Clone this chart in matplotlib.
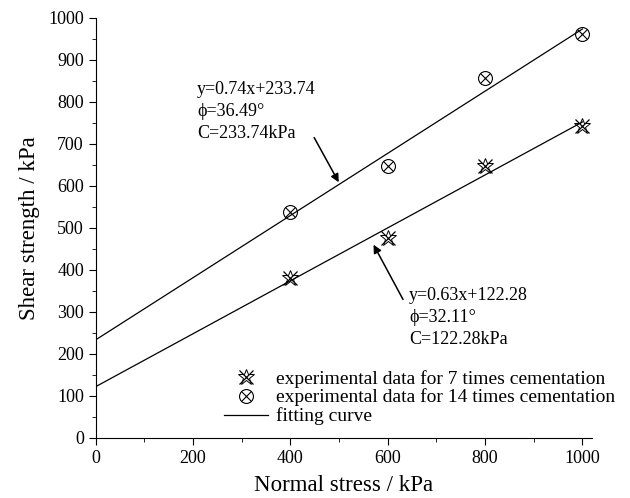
import matplotlib.pyplot as plt
import numpy as np
from matplotlib.lines import Line2D
from matplotlib.ticker import MultipleLocator

plt.rcParams['font.family'] = ['Liberation Serif', 'DejaVu Serif']

# data
stress = [400, 600, 800, 1000]
strength_7 = [380, 475, 648, 742]
strength_14 = [537, 648, 858, 962]
fit_7 = (0.63, 122.28)
fit_14 = (0.74, 233.74)

fig = plt.figure(figsize=(6.3, 4.98), dpi=100)
ax = fig.add_axes([0.152, 0.1205, 0.788, 0.8435])

xs = np.array([0, 1000])
ax.plot(xs, fit_7[0] * xs + fit_7[1], color='black', lw=0.9)
ax.plot(xs, fit_14[0] * xs + fit_14[1], color='black', lw=0.9)

ms = 10
ax.plot(stress, strength_7, ls='none', marker='x', ms=ms, mec='black', mew=0.9)
ax.plot(stress, strength_7, ls='none', marker='*', ms=ms + 2, mfc='none', mec='black', mew=0.7)
ax.plot(stress, strength_14, ls='none', marker='o', ms=ms, mfc='none', mec='black', mew=0.8)
ax.plot(stress, strength_14, ls='none', marker='x', ms=ms * 0.7, mec='black', mew=0.8)

ax.set_xlim(0, 1020)
ax.set_ylim(0, 1000)
ax.xaxis.set_major_locator(MultipleLocator(200))
ax.xaxis.set_minor_locator(MultipleLocator(100))
ax.yaxis.set_major_locator(MultipleLocator(100))
ax.yaxis.set_minor_locator(MultipleLocator(50))
ax.tick_params(which='major', length=5, labelsize=13, direction='out')
ax.tick_params(which='minor', length=3, direction='out')
for s in ['top', 'right']:
    ax.spines[s].set_visible(False)
ax.set_xlabel('Normal stress / kPa', fontsize=16.5, labelpad=6)
ax.set_ylabel('Shear strength / kPa', fontsize=16.5, labelpad=6)

ax.text(208, 850, 'y=0.74x+233.74\n\u03d5=36.49\u00b0\nC=233.74kPa', fontsize=13,
        va='top', ha='left', linespacing=1.4)
ax.annotate('', xy=(502, 603), xytext=(446, 721),
            arrowprops=dict(arrowstyle='-|>', color='black', lw=1.1, mutation_scale=12))
ax.text(644, 360, 'y=0.63x+122.28\n\u03d5=32.11\u00b0\nC=122.28kPa', fontsize=13,
        va='top', ha='left', linespacing=1.4)
ax.annotate('', xy=(568, 466), xytext=(634, 324),
            arrowprops=dict(arrowstyle='-|>', color='black', lw=1.1, mutation_scale=12))

h7 = (Line2D([], [], ls='none', marker='x', ms=ms, mec='black', mew=0.9),
      Line2D([], [], ls='none', marker='*', ms=ms + 2, mfc='none', mec='black', mew=0.7))
h14 = (Line2D([], [], ls='none', marker='o', ms=ms, mfc='none', mec='black', mew=0.8),
       Line2D([], [], ls='none', marker='x', ms=ms * 0.7, mec='black', mew=0.8))
hfit = Line2D([], [], color='black', lw=0.9)
ax.legend([h7, h14, hfit],
          ['experimental data for 7 times cementation',
           'experimental data for 14 times cementation',
           'fitting curve'],
          loc='upper left', bbox_to_anchor=(0.242, 0.181), frameon=False, fontsize=14,
          handlelength=2.3, handletextpad=0.4, labelspacing=0.05, borderaxespad=0)

fig.savefig('out.png')
